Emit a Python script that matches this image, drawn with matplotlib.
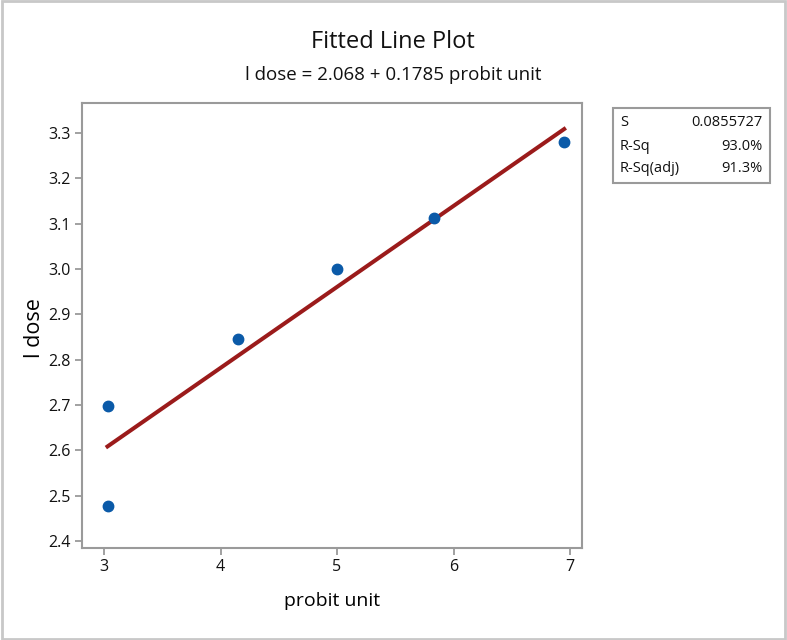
import matplotlib
matplotlib.use("Agg")
import matplotlib.pyplot as plt
from matplotlib.patches import Rectangle
import numpy as np

plt.rcParams['font.family'] = ['Open Sans', 'DejaVu Sans']
plt.rcParams['text.color'] = '#111111'

# Data
probit_unit = [3.03, 3.03, 4.15, 5.00, 5.83, 6.95]
l_dose = [2.699, 2.477, 2.845, 3.000, 3.113, 3.279]
intercept = 2.068
slope = 0.1785
stat_labels = ["S", "R-Sq", "R-Sq(adj)"]
stat_values = ["0.0855727", "93.0%", "91.3%"]
x_ticks = [3, 4, 5, 6, 7]
y_ticks = [2.4, 2.5, 2.6, 2.7, 2.8, 2.9, 3.0, 3.1, 3.2, 3.3]

fig = plt.figure(figsize=(7.87, 6.40), dpi=100)
W, H = 787, 640
ax = fig.add_axes([82 / W, 1 - 548 / H, 500 / W, 445 / H])

xs = np.linspace(min(probit_unit), max(probit_unit), 50)
ax.plot(xs, intercept + slope * xs, color='#9B1B1B', lw=2.9, zorder=2)
ax.plot(probit_unit, l_dose, 'o', color='#0B5AA8', ms=7.5, zorder=3)

ax.set_xlim(2.811, 7.103)
ax.set_ylim(2.385, 3.366)
ax.set_xticks(x_ticks)
ax.set_xticklabels([str(t) for t in x_ticks])
ax.set_yticks(y_ticks)
ax.set_yticklabels([f"{t:.1f}" for t in y_ticks])

for s in ax.spines.values():
    s.set_color('#9a9a9a')
    s.set_linewidth(1.5)
ax.tick_params(direction='out', length=5, width=1.3, color='#9a9a9a',
               labelsize=11.5, labelcolor='#111111', pad=3)

ax.set_xlabel('probit unit', fontsize=14, labelpad=12)
ax.set_ylabel('l dose', fontsize=15.5, va='center')
ax.yaxis.set_label_coords((35 - 82) / 500, (548 - 328) / 445)

fig.text(393 / W, 1 - 42 / H, 'Fitted Line Plot', ha='center', va='center', fontsize=17)
fig.text(393 / W, 1 - 75 / H, 'l dose = 2.068 + 0.1785 probit unit', ha='center', va='center', fontsize=13.5)

# Stats box
fig.patches.append(Rectangle((613 / W, 1 - 183 / H), 157 / W, 75 / H, transform=fig.transFigure,
                             fill=False, edgecolor='#9a9a9a', lw=1.5))
row_y = [123, 146, 168]
for lab, val, yy in zip(stat_labels, stat_values, row_y):
    fig.text(620 / W, 1 - yy / H, lab, ha='left', va='center', fontsize=10.5)
    fig.text(763 / W, 1 - yy / H, val, ha='right', va='center', fontsize=10.5)

# Outer border
fig.patches.append(Rectangle((0.002, 0.002), 0.996, 0.996, transform=fig.transFigure,
                             fill=False, edgecolor='#c8c8c8', lw=2))

fig.savefig('out.png', dpi=100)
